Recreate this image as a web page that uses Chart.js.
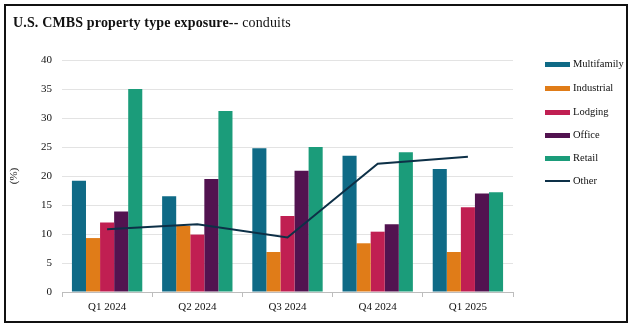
<!DOCTYPE html>
<html>
<head>
<meta charset="utf-8">
<script src="https://cdn.jsdelivr.net/npm/chart.js@4.4.1/dist/chart.umd.min.js"></script>
<style>
  html, body { margin: 0; padding: 0; background: #fff; }
  #wrap { position: relative; width: 630px; height: 329px; overflow: hidden; }
  #frame { position: absolute; left: 4px; top: 4px; width: 620px; height: 315px; border: 2px solid #111; pointer-events: none; }
  #title { position: absolute; left: 13px; top: 15px; font-family: "Liberation Serif", serif; font-size: 14px; letter-spacing: 0.15px; font-weight: bold; color: #111; white-space: nowrap; }
  #title span { font-weight: normal; }
  #legend { position: absolute; left: 545px; top: 0; font-family: "Liberation Serif", serif; font-size: 10.5px; color: #111; }
  .li { position: absolute; left: 0; height: 14px; white-space: nowrap; }
  .sw { position: absolute; left: 0; width: 25px; }
  .lt { position: absolute; left: 28px; top: 0; line-height: 14px; }
  canvas { position: absolute; left: 0; top: 0; }
</style>
</head>
<body>
<div id="wrap">
  <canvas id="c" width="630" height="329"></canvas>
  <div id="title">U.S. CMBS property type exposure-- <span>conduits</span></div>
  <div id="legend"></div>
  <div id="frame"></div>
</div>
<script>
const categories = ["Q1 2024", "Q2 2024", "Q3 2024", "Q4 2024", "Q1 2025"];
const multifamily = [19.2, 16.5, 24.8, 23.5, 21.2];
const industrial  = [9.3, 11.4, 6.9, 8.4, 6.9];
const lodging     = [12.0, 9.9, 13.1, 10.4, 14.6];
const office      = [13.9, 19.5, 20.9, 11.7, 17.0];
const retail      = [35.0, 31.2, 25.0, 24.1, 17.2];
const other       = [10.8, 11.7, 9.4, 22.1, 23.3];
const yTicks = [0, 5, 10, 15, 20, 25, 30, 35, 40];

const colors = {
  Multifamily: "#0f6a86",
  Industrial: "#e07c18",
  Lodging: "#c01f52",
  Office: "#521350",
  Retail: "#1b9c7a",
  Other: "#0d3047"
};

const barSeries = [
  ["Multifamily", multifamily],
  ["Industrial", industrial],
  ["Lodging", lodging],
  ["Office", office],
  ["Retail", retail]
];

const datasets = barSeries.map(([name, vals]) => ({
  type: "bar",
  label: name,
  data: vals,
  backgroundColor: colors[name],
  borderWidth: 0,
  categoryPercentage: 0.78,
  barPercentage: 1.0,
  order: 2
}));
datasets.push({
  type: "line",
  label: "Other",
  data: other,
  borderColor: colors.Other,
  backgroundColor: colors.Other,
  borderWidth: 2,
  pointRadius: 0,
  tension: 0,
  order: 0
});

const serif = "'Liberation Serif', 'Times New Roman', serif";

const chart = new Chart(document.getElementById("c"), {
  data: { labels: categories, datasets: datasets },
  options: {
    responsive: false,
    animation: false,
    layout: { padding: { left: 8, right: 117, top: 60, bottom: 12 } },
    plugins: { legend: { display: false }, title: { display: false }, tooltip: { enabled: false } },
    scales: {
      x: {
        offset: true,
        grid: { display: true, drawOnChartArea: false, drawTicks: true, tickLength: 5, color: "#bdbdbd", offset: true },
        border: { display: true, color: "#bdbdbd", width: 1 },
        ticks: { color: "#111", font: { family: serif, size: 11 }, padding: 4, maxRotation: 0 },
        afterFit: (s) => { s.height = 25; }
      },
      y: {
        min: 0, max: 40,
        afterBuildTicks: (s) => { s.ticks = yTicks.map(v => ({ value: v })); },
        grid: { color: "#e3e3e3", drawTicks: false, lineWidth: 1 },
        border: { display: false },
        ticks: { color: "#111", font: { family: serif, size: 11 }, padding: 10 },
        title: { display: true, text: "(%)", color: "#111", font: { family: serif, size: 11 }, padding: { top: 0, bottom: 0 } },
        afterFit: (s) => { s.width = 54; }
      }
    }
  }
});

// Legend built from the chart's datasets
const legendOrder = ["Multifamily", "Industrial", "Lodging", "Office", "Retail", "Other"];
const legendY = [64, 88, 112, 135, 158, 181];
const lg = document.getElementById("legend");
legendOrder.forEach((name, i) => {
  const ds = chart.data.datasets.find(d => d.label === name);
  const item = document.createElement("div");
  item.className = "li";
  item.style.top = (legendY[i] - 7) + "px";
  const sw = document.createElement("div");
  sw.className = "sw";
  const h = ds.type === "line" ? 2 : 5;
  sw.style.height = h + "px";
  sw.style.top = (7 - h / 2) + "px";
  sw.style.background = ds.type === "line" ? ds.borderColor : ds.backgroundColor;
  const t = document.createElement("div");
  t.className = "lt";
  t.textContent = ds.label;
  item.appendChild(sw);
  item.appendChild(t);
  lg.appendChild(item);
});
</script>
</body>
</html>
